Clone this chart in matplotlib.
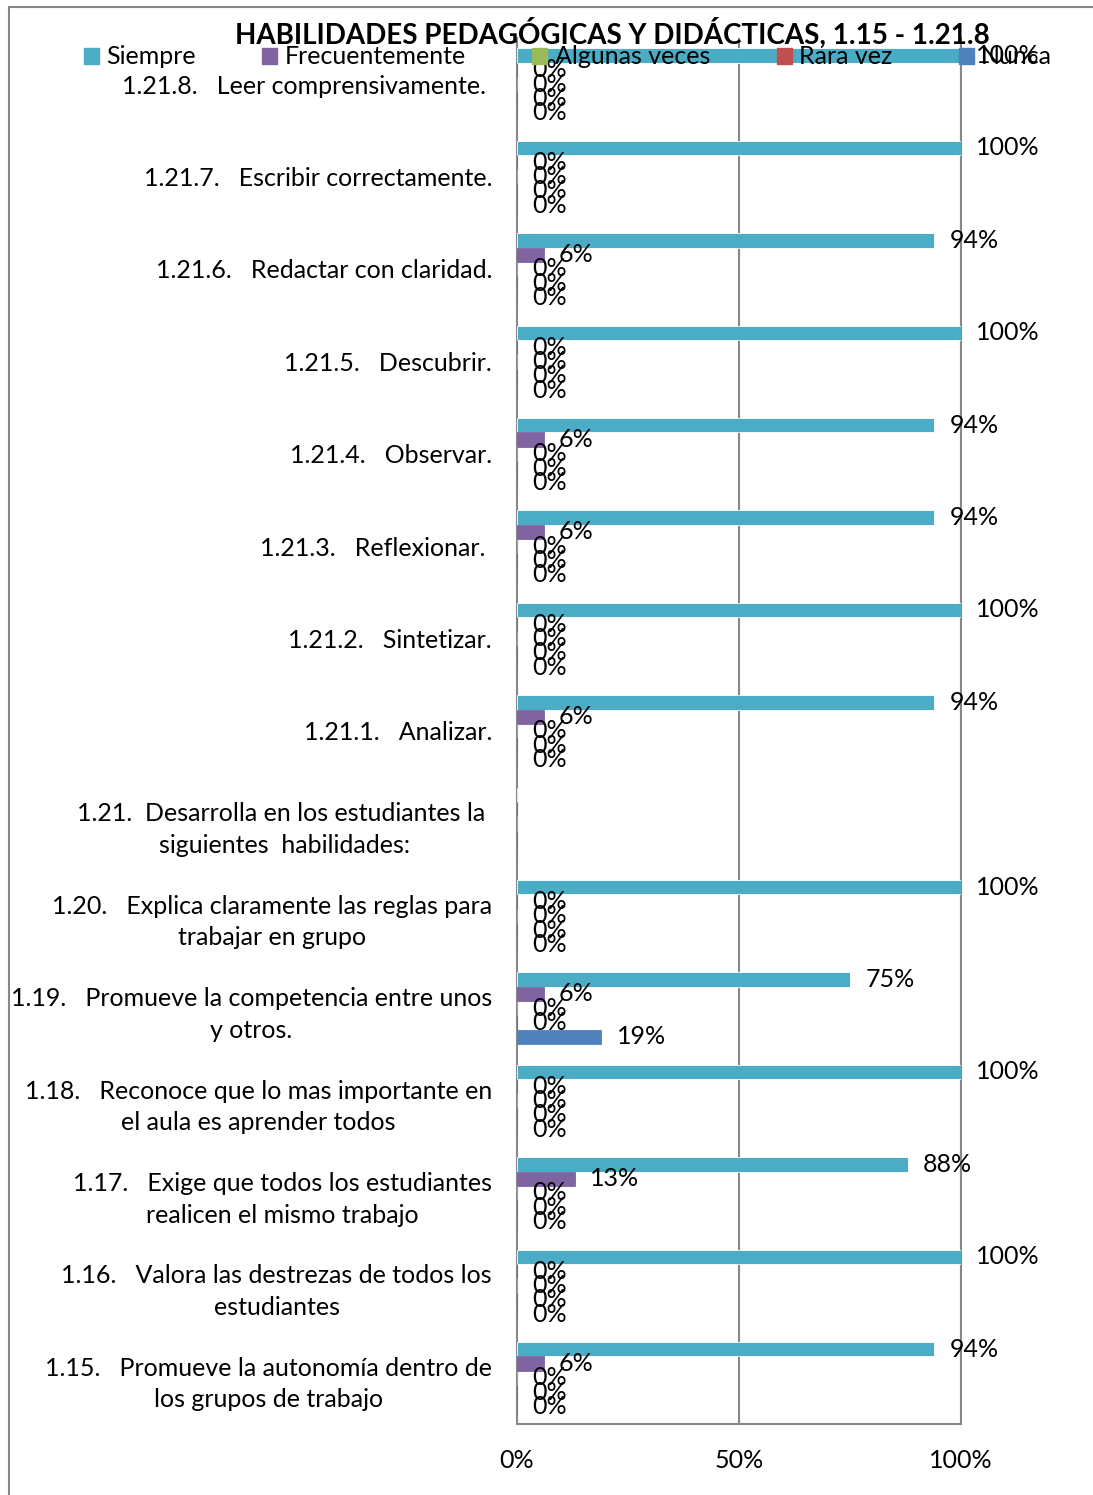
import numpy as np
import matplotlib
matplotlib.use("Agg")
import matplotlib.pyplot as plt
from matplotlib.patches import Patch, Rectangle

plt.rcParams['font.family'] = ['Lato', 'DejaVu Sans']

# categories, bottom to top
categorias = [
    "1.15.   Promueve la autonomía dentro de\nlos grupos de trabajo",
    "1.16.   Valora las destrezas de todos los\nestudiantes",
    "1.17.   Exige que todos los estudiantes\nrealicen el mismo trabajo",
    "1.18.   Reconoce que lo mas importante en\nel aula es aprender todos",
    "1.19.   Promueve la competencia entre unos\ny otros.",
    "1.20.   Explica claramente las reglas para\ntrabajar en grupo",
    "1.21.  Desarrolla en los estudiantes la \nsiguientes  habilidades:",
    "1.21.1.   Analizar.",
    "1.21.2.   Sintetizar.",
    "1.21.3.   Reflexionar. ",
    "1.21.4.   Observar.",
    "1.21.5.   Descubrir.",
    "1.21.6.   Redactar con claridad.",
    "1.21.7.   Escribir correctamente.",
    "1.21.8.   Leer comprensivamente. ",
]

nan = np.nan
siempre        = [94, 100, 88, 100, 75, 100, nan, 94, 100, 94, 94, 100, 94, 100, 100]
frecuentemente = [6, 0, 13, 0, 6, 0, nan, 6, 0, 6, 6, 0, 6, 0, 0]
algunas_veces  = [0, 0, 0, 0, 0, 0, nan, 0, 0, 0, 0, 0, 0, 0, 0]
rara_vez       = [0, 0, 0, 0, 0, 0, nan, 0, 0, 0, 0, 0, 0, 0, 0]
nunca          = [0, 0, 0, 0, 19, 0, nan, 0, 0, 0, 0, 0, 0, 0, 0]

series = [
    ("Siempre", siempre, "#4BACC6"),
    ("Frecuentemente", frecuentemente, "#8064A2"),
    ("Algunas veces", algunas_veces, "#9BBB59"),
    ("Rara vez", rara_vez, "#C0504D"),
    ("Nunca", nunca, "#4F81BD"),
]

fs = 18

fig = plt.figure(figsize=(10.93, 14.95), dpi=100)
ax = fig.add_axes([517/1093, 1 - 1424/1495, 444/1093, 1386/1495])

y = np.arange(len(categorias))
h = 0.155
offsets = [0.31, 0.155, 0.0, -0.155, -0.31]

for (name, vals, col), off in zip(series, offsets):
    v = np.array(vals, dtype=float)
    bars = ax.barh(y + off, np.nan_to_num(v), height=h, color=col,
                   edgecolor='white' if name == "Siempre" else col, linewidth=0.6,
                   zorder=3)
    labs = ['' if np.isnan(x) else f"{int(x)}%" for x in v]
    ax.bar_label(bars, labels=labs, padding=11, fontsize=fs, zorder=4)

ax.set_xlim(0, 100)
ax.set_ylim(-0.5, len(categorias) - 0.5)
ax.set_xticks([0, 50, 100])
ax.set_xticklabels(["0%", "50%", "100%"], fontsize=fs)
ax.set_yticks(y)
ax.set_yticklabels(categorias, fontsize=fs, multialignment='center', linespacing=1.45)
ax.tick_params(axis='both', length=0)
ax.tick_params(axis='y', pad=18)
ax.tick_params(axis='x', pad=18)
ax.xaxis.grid(True, color='#888888', linewidth=1.5, zorder=0)
ax.spines['top'].set_visible(False)
for s in ['left', 'right', 'bottom']:
    ax.spines[s].set_color('#888888')
    ax.spines[s].set_linewidth(1.5)

fig.text(612/1093, 1 - 33/1495, "HABILIDADES PEDAGÓGICAS Y DIDÁCTICAS, 1.15 - 1.21.8",
         ha='center', va='center', fontsize=20, fontweight='bold')

handles = [Patch(color=c, label=n) for n, _, c in series]
fig.legend(handles=handles, ncol=5, loc='center left', frameon=False,
           bbox_to_anchor=(74/1093, 1 - 57/1495), fontsize=fs,
           handlelength=0.6, handleheight=0.6, handletextpad=0.3,
           columnspacing=2.65, borderaxespad=0)

# outer chart border
fig.patches.append(Rectangle((9/1093, -0.01), 1.05, 1 - 7/1495 + 0.01,
                             transform=fig.transFigure, fill=False,
                             edgecolor='#888888', linewidth=1.5))

fig.savefig("out.png", dpi=100)
